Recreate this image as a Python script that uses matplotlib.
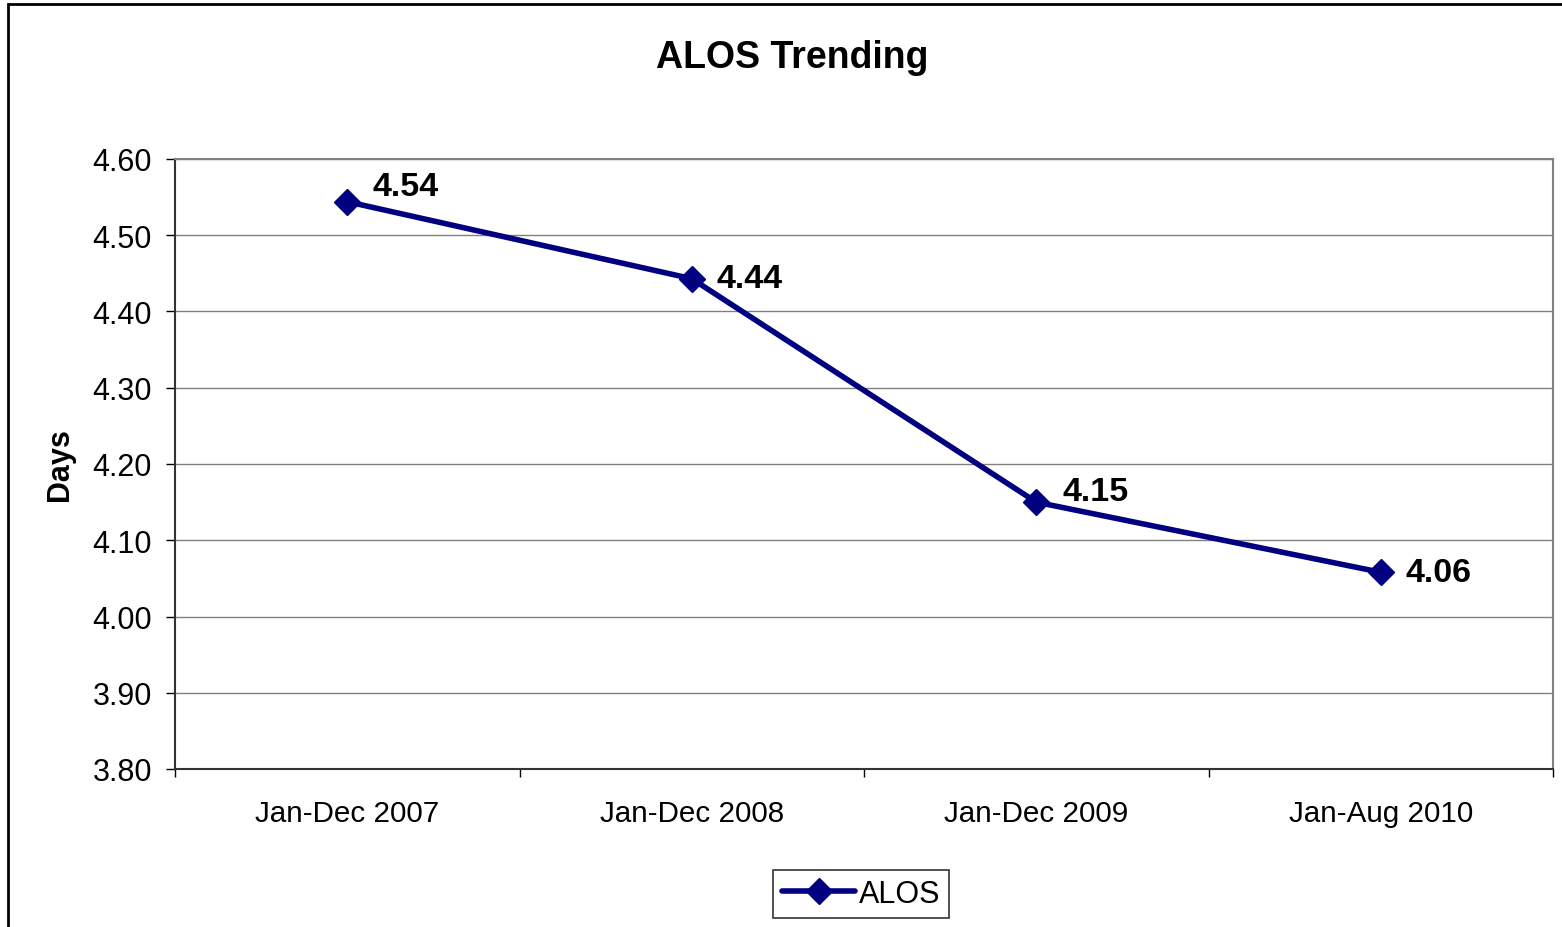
import matplotlib
matplotlib.use("Agg")
import matplotlib.pyplot as plt
from matplotlib.patches import Rectangle
from matplotlib.ticker import FixedLocator, FormatStrFormatter

plt.rcParams['font.family'] = ['Liberation Sans', 'DejaVu Sans']

categories = ["Jan-Dec 2007", "Jan-Dec 2008", "Jan-Dec 2009", "Jan-Aug 2010"]
alos_values = [4.544, 4.443, 4.150, 4.058]
series_name = "ALOS"
y_ticks = [3.80, 3.90, 4.00, 4.10, 4.20, 4.30, 4.40, 4.50, 4.60]

# label offsets in points (layout only)
label_offsets = [(18, 11), (18, 0), (19, 8), (18, 0)]

W, H = 1562, 928
fig = plt.figure(figsize=(W / 100, H / 100), dpi=100)
ax = fig.add_axes([175 / W, 1 - 770 / H, (1553 - 175) / W, (770 - 160) / H])

navy = "#000080"
x = list(range(len(categories)))
ax.plot(x, alos_values, color=navy, lw=4, marker="D", ms=13, mec=navy, mew=1,
        label=series_name, zorder=3, solid_capstyle="round")

for xi, v, off in zip(x, alos_values, label_offsets):
    ax.annotate(f"{v:.2f}", (xi, v), xytext=off, textcoords="offset points",
                ha="left", va="center", fontsize=24.5, fontweight="bold", color="black")

ax.set_xlim(-0.5, len(categories) - 0.5)
ax.set_ylim(y_ticks[0], y_ticks[-1])
ax.set_yticks(y_ticks)
ax.yaxis.set_major_formatter(FormatStrFormatter("%.2f"))
ax.tick_params(axis="y", labelsize=22, length=6.5, width=1, pad=10, color="black")
ax.set_xticks(x)
ax.set_xticklabels(categories)
ax.tick_params(axis="x", which="major", labelsize=21.3, length=0, pad=21.5)
ax.xaxis.set_minor_locator(FixedLocator([i - 0.5 for i in range(len(categories) + 1)]))
ax.tick_params(axis="x", which="minor", length=6, width=1, color="black")

ax.grid(axis="y", color="#808080", lw=1)
ax.set_axisbelow(True)
for s in ("top", "right"):
    ax.spines[s].set_color("#808080")
    ax.spines[s].set_linewidth(1.5)
for s in ("left", "bottom"):
    ax.spines[s].set_color("#333333")
    ax.spines[s].set_linewidth(1.5)

fig.text(792 / W, 1 - 58 / H, "ALOS Trending", ha="center", va="center",
         fontsize=27, fontweight="bold")
fig.text(60 / W, 1 - 465 / H, "Days", ha="center", va="center", rotation=90,
         fontsize=22, fontweight="bold")

leg = ax.legend(loc="center", bbox_to_anchor=(861 / W, 1 - 895 / H),
                bbox_transform=fig.transFigure, fontsize=22, frameon=True,
                fancybox=False, handlelength=2.4, handletextpad=0.1,
                borderpad=0.3, borderaxespad=0)
leg.get_frame().set_edgecolor("black")
leg.get_frame().set_linewidth(1.2)

fig.patches.append(Rectangle((8 / W, -0.1), 1.2, (H - 5) / H + 0.1,
                             transform=fig.transFigure, fill=False,
                             edgecolor="black", lw=2))

fig.savefig("out.png", dpi=100)
